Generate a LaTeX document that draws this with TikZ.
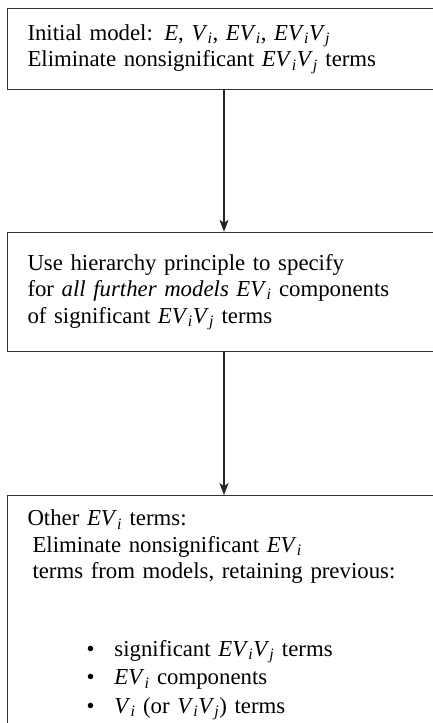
\documentclass[tikz,border=0pt]{standalone}
\usepackage{fontspec}
\setmainfont{Liberation Serif}
\usetikzlibrary{arrows.meta,positioning}
\tikzset{every picture/.style={line width=0.75pt}}

% italic model terms with italic indices
\newcommand{\term}[1]{\textit{#1}}
\newcommand{\idx}[1]{\textsubscript{\textit{#1}}}
\newcommand{\listpoint}[1]{\hspace*{59pt}\textbullet\hspace{20pt}#1}

\begin{document}
\begin{tikzpicture}[x=1pt,y=-1pt,
    stagebox/.style={draw=black!80, line width=1.3pt, minimum width=433pt,
      text width=393pt, inner xsep=20pt, align=left,
      font=\fontsize{22.8}{26.5}\selectfont},
    flow/.style={-{Stealth[length=12pt,width=9pt,inset=3pt]}, line width=1.1pt, black!85}]
    \useasboundingbox (0,0) rectangle (433,723);
    \clip (0,0) rectangle (433,723);

    % Stage 1: starting model
    \node[stagebox, anchor=north, minimum height=81.5pt] (initial) at (224,7.5)
      {Initial model: \term{E}, \term{V}\idx{i}, \term{EV}\idx{i}, \term{EV}\idx{i}\term{V}\idx{j}\\
       Eliminate nonsignificant \term{EV}\idx{i}\term{V}\idx{j} terms};

    % Stage 2: hierarchy principle
    \node[stagebox, minimum height=119pt, below=141.5pt of initial] (hierarchy)
      {Use hierarchy principle to specify\\
       for \textit{all further models} \term{EV}\idx{i} components\\
       of significant \term{EV}\idx{i}\term{V}\idx{j} terms};

    % Stage 3: remaining EV_i terms
    \node[stagebox, inner ysep=14pt, below=143pt of hierarchy] (other)
      {Other \term{EV}\idx{i} terms:\\
       \hspace*{5pt}Eliminate nonsignificant \term{EV}\idx{i}\\
       \hspace*{5pt}terms from models, retaining previous:\\[51pt]
       \listpoint{significant \term{EV}\idx{i}\term{V}\idx{j} terms}\\[2pt]
       \listpoint{\term{EV}\idx{i} components}\\[2pt]
       \listpoint{\term{V}\idx{i} (or \term{V}\idx{i}\term{V}\idx{j}) terms}};

    \draw[flow] (initial.south) -- (hierarchy.north);
    \draw[flow] (hierarchy.south) -- (other.north);
\end{tikzpicture}
\end{document}
